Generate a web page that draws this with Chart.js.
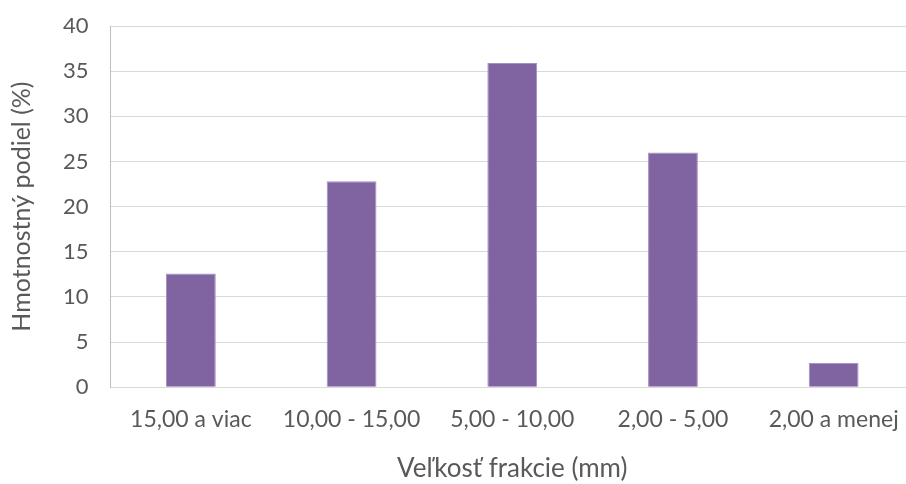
<!DOCTYPE html>
<html>
<head>
<meta charset="utf-8">
<script src="https://cdn.jsdelivr.net/npm/chart.js@4.4.1/dist/chart.umd.min.js"></script>
<style>
  html, body { margin: 0; padding: 0; background: #ffffff; overflow: hidden; }
  #wrap { width: 920px; height: 484px; position: relative; }
</style>
</head>
<body>
<div id="wrap"><canvas id="c" width="920" height="484"></canvas></div>
<script>
const categories = ["15,00 a viac", "10,00 - 15,00", "5,00 - 10,00", "2,00 - 5,00", "2,00 a menej"];
const massShare = [12.6, 22.8, 35.9, 26.0, 2.7];
const yTicks = [0, 5, 10, 15, 20, 25, 30, 35, 40];
const xTitle = "Veľkosť frakcie (mm)";
const yTitle = "Hmotnostný podiel (%)";

const FONT = "Lato, 'Open Sans', sans-serif";
const GREY = "#595959";

new Chart(document.getElementById("c"), {
  type: "bar",
  data: {
    labels: categories,
    datasets: [{
      data: massShare,
      backgroundColor: "#8064A2",
      borderColor: "#A38FC2",
      borderWidth: 1,
      categoryPercentage: 1.0,
      barPercentage: 0.31
    }]
  },
  options: {
    responsive: false,
    animation: false,
    layout: { padding: { top: 26, left: 7, right: 6, bottom: 0 } },
    plugins: { legend: { display: false }, tooltip: { enabled: false } },
    scales: {
      x: {
        grid: { display: false, drawTicks: false },
        border: { display: true, color: "#D9D9D9", width: 1 },
        ticks: { color: GREY, font: { family: FONT, size: 23 }, padding: 19, maxRotation: 0 },
        title: { display: true, text: xTitle, color: GREY, font: { family: FONT, size: 26 }, padding: { top: 0, bottom: 0 } }
      },
      y: {
        min: 0, max: 40,
        afterBuildTicks: (axis) => { axis.ticks = yTicks.map(v => ({ value: v })); },
        afterFit: (axis) => { axis.paddingTop = 0; axis.paddingBottom = 0; },
        grid: { color: "#D9D9D9", lineWidth: 1, drawTicks: false },
        border: { display: true, color: "#BFBFBF", width: 1 },
        ticks: { color: GREY, font: { family: FONT, size: 22 }, padding: 22 },
        title: { display: true, text: yTitle, color: GREY, font: { family: FONT, size: 25 }, padding: { top: 0, bottom: 4 } }
      }
    }
  }
});
</script>
</body>
</html>
